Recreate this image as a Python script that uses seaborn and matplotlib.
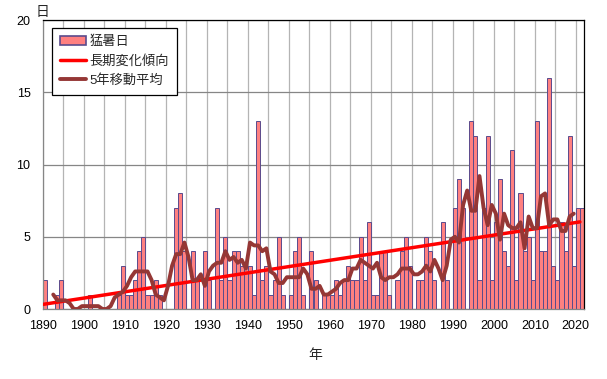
import numpy as np
import pandas as pd
import matplotlib
matplotlib.use("Agg")
import matplotlib.pyplot as plt
import seaborn as sns
from matplotlib.patches import Patch
from matplotlib.lines import Line2D

# number of 猛暑日 per year
years = np.arange(1890, 2022)
days = [
    2, 0, 0, 1, 2, 0, 0, 0, 0, 0,      # 1890-1899
    0, 1, 0, 0, 0, 0, 0, 0, 1, 3,      # 1900-1909
    1, 1, 2, 4, 5, 1, 1, 2, 1, 0,      # 1910-1919
    0, 0, 7, 8, 4, 0, 4, 2, 0, 4,      # 1920-1929
    2, 0, 7, 2, 5, 2, 4, 4, 3, 3,      # 1930-1939
    3, 1, 13, 2, 3, 1, 2, 5, 1, 0,     # 1940-1949
    1, 4, 5, 1, 0, 4, 2, 0, 1, 1,      # 1950-1959
    1, 2, 1, 2, 3, 2, 2, 5, 2, 6,      # 1960-1969
    1, 1, 4, 4, 1, 0, 2, 4, 5, 3,      # 1970-1979
    0, 2, 2, 5, 4, 2, 0, 6, 2, 0,      # 1980-1989
    7, 9, 7, 0, 13, 12, 2, 7, 12, 2,   # 1990-1999
    6, 9, 4, 3, 11, 2, 8, 4, 5, 2,     # 2000-2009
    13, 4, 4, 16, 3, 2, 6, 4, 12, 3,   # 2010-2019
    7, 7,                              # 2020-2021
]
xtick_years = list(range(1890, 2021, 10))
ytick_vals = [0, 5, 10, 15, 20]
legend_labels = ["猛暑日", "長期変化傾向", "5年移動平均"]

bar_face = "#FF8080"
bar_edge = "#5A4A8C"
trend_color = "#FF0000"
ma_color = "#953735"

sns.set_style("white")
plt.rcParams["font.family"] = ["Liberation Sans", "Noto Sans CJK JP", "DejaVu Sans"]

df = pd.DataFrame({"year": years, "days": days})
df["pos"] = df["year"] + 0.5
df["ma5"] = df["days"].rolling(5, center=True).mean()
slope, icpt = np.polyfit(df["year"], df["days"], 1)
df["trend"] = slope * df["year"] + icpt

fig = plt.figure(figsize=(6.07, 3.79), dpi=100)
ax = fig.add_axes([43 / 607, 70 / 379, 541 / 607, 289 / 379])

sns.barplot(data=df, x="pos", y="days", native_scale=True, width=1.0,
            color=bar_face, saturation=1, edgecolor=bar_edge, linewidth=0.7,
            errorbar=None, ax=ax, zorder=2)
sns.lineplot(data=df, x="year", y="trend", color=trend_color, lw=2.5,
             ax=ax, zorder=3)
sns.lineplot(data=df.dropna(), x="pos", y="ma5", color=ma_color, lw=2.8,
             ax=ax, zorder=4)

ax.set_xlim(1890, 2022)
ax.set_ylim(0, 20)
ax.set_xticks(xtick_years)
ax.set_xticklabels([str(y) for y in xtick_years])
ax.set_xticks(range(1895, 2022, 10), minor=True)
ax.set_yticks(ytick_vals)
ax.set_xlabel("")
ax.set_ylabel("")

ax.set_axisbelow(True)
ax.grid(axis="x", which="both", color="#B4B4B4", lw=0.9)
ax.grid(axis="y", which="major", color="#868686", lw=0.9)
ax.tick_params(axis="both", which="major", length=5, width=0.8, color="#868686",
               direction="out", labelsize=9, colors="black")
ax.tick_params(axis="x", which="major", pad=3)
ax.tick_params(axis="y", which="major", pad=4)
ax.tick_params(axis="x", which="minor", length=0)

for side in ["left", "bottom"]:
    ax.spines[side].set_color("#868686")
    ax.spines[side].set_linewidth(0.9)
for side in ["top", "right"]:
    ax.spines[side].set_color("black")
    ax.spines[side].set_linewidth(0.9)

handles = [
    Patch(facecolor=bar_face, edgecolor=bar_edge, lw=1.2),
    Line2D([], [], color=trend_color, lw=2.5),
    Line2D([], [], color=ma_color, lw=2.8),
]
leg = ax.legend(handles, legend_labels, loc="upper left",
                bbox_to_anchor=(9 / 541, 281 / 289), borderaxespad=0,
                fontsize=9.5, frameon=True, fancybox=False, framealpha=1,
                edgecolor="black", borderpad=0.6, labelspacing=0.5,
                handlelength=2.0, handletextpad=0.25)
leg.get_frame().set_linewidth(0.9)

fig.text(42 / 607, 1 - 12 / 379, "日", ha="center", va="center", fontsize=10)
fig.text(315 / 607, 1 - 355 / 379, "年", ha="center", va="center", fontsize=10)

fig.savefig("out.png", dpi=100)
